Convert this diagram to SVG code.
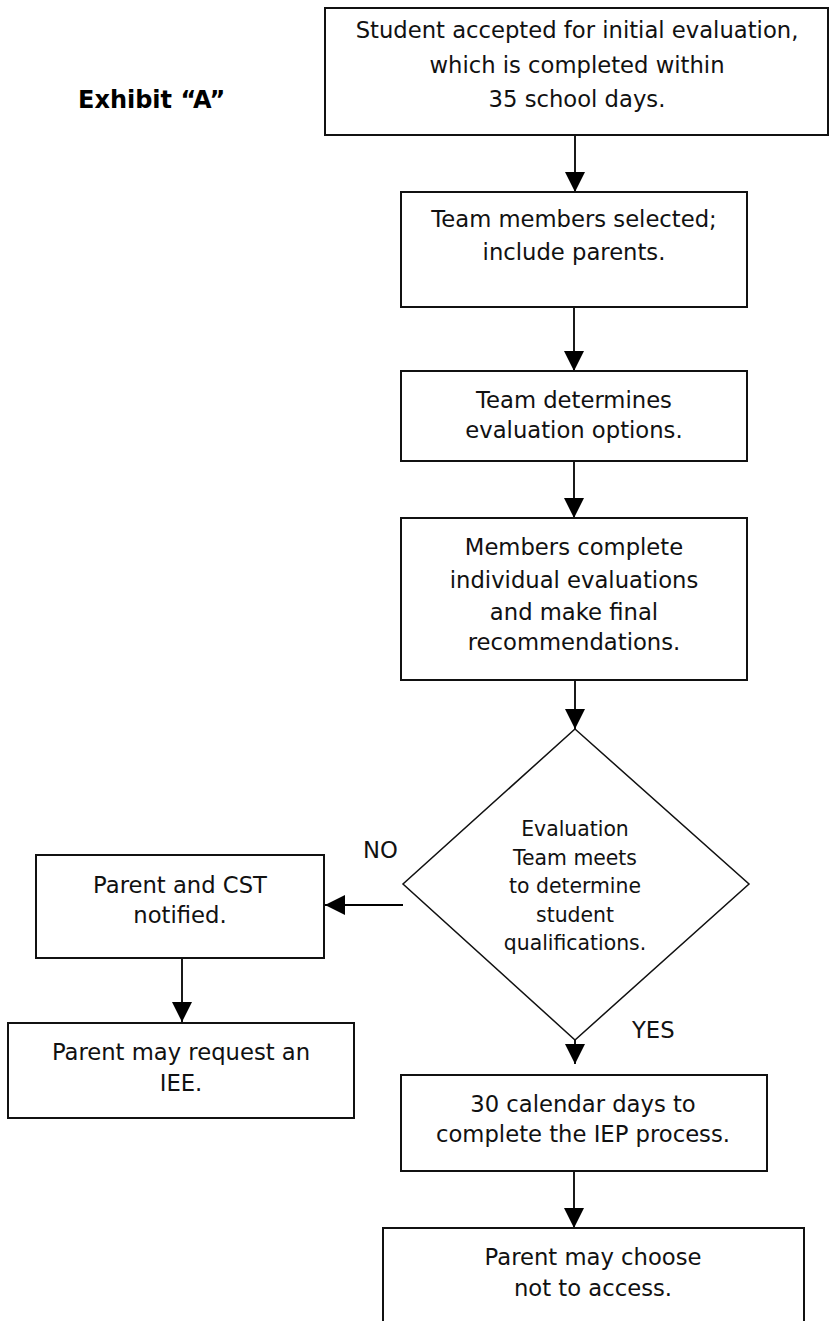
<svg xmlns="http://www.w3.org/2000/svg" width="832" height="1321" viewBox="0 0 832 1321">
<defs>
<style>
.box{fill:#fff;stroke:#111;stroke-width:2}
.dia{fill:#fff;stroke:#111;stroke-width:1.5}
.t{font-family:"DejaVu Sans",Verdana,sans-serif;font-size:22.7px;fill:#111;text-anchor:middle}
.d{font-family:"DejaVu Sans",Verdana,sans-serif;font-size:20.4px;fill:#111;text-anchor:middle}
.lbl{font-family:"DejaVu Sans",Verdana,sans-serif;font-size:22.7px;fill:#111}
.ex{font-family:"DejaVu Sans",Verdana,sans-serif;font-size:24px;font-weight:bold;fill:#000}
.c{stroke:#000;stroke-width:1.8;fill:none;marker-end:url(#ah)}
</style>
<marker id="ah" markerUnits="userSpaceOnUse" markerWidth="20" markerHeight="20" refX="20" refY="10" orient="auto">
<path d="M0,0 L20,10 L0,20 z" fill="#000"/>
</marker>
</defs>
<rect width="832" height="1321" fill="#fff"/>
<text class="ex" x="78" y="108">Exhibit “A”</text>

<g id="connectors">
<line class="c" x1="575" y1="135" x2="575" y2="192"/>
<line class="c" x1="574" y1="307" x2="574" y2="371"/>
<line class="c" x1="574" y1="461" x2="574" y2="518"/>
<line class="c" x1="575" y1="680" x2="575" y2="729"/>
<line class="c" x1="403" y1="905" x2="325" y2="905"/>
<line class="c" x1="182" y1="958" x2="182" y2="1022"/>
<line class="c" x1="575" y1="1040" x2="575" y2="1064"/>
<line class="c" x1="574" y1="1171" x2="574" y2="1228"/>
<text class="lbl" x="363" y="858">NO</text>
<text class="lbl" x="632" y="1038">YES</text>
</g>

<g id="n1">
<rect class="box" x="325" y="8" width="503" height="127"/>
<text class="t" x="577" y="38">Student accepted for initial evaluation,</text>
<text class="t" x="577" y="73">which is completed within</text>
<text class="t" x="577" y="107">35 school days.</text>
</g>
<g id="n2">
<rect class="box" x="401" y="192" width="346" height="115"/>
<text class="t" x="574" y="227">Team members selected;</text>
<text class="t" x="574" y="260">include parents.</text>
</g>
<g id="n3">
<rect class="box" x="401" y="371" width="346" height="90"/>
<text class="t" x="574" y="408">Team determines</text>
<text class="t" x="574" y="438">evaluation options.</text>
</g>
<g id="n4">
<rect class="box" x="401" y="518" width="346" height="162"/>
<text class="t" x="574" y="555">Members complete</text>
<text class="t" x="574" y="588">individual evaluations</text>
<text class="t" x="574" y="620">and make final</text>
<text class="t" x="574" y="650">recommendations.</text>
</g>
<g id="n5">
<polygon class="dia" points="575,729 749,884 575,1040 403,884"/>
<text class="d" x="575" y="836">Evaluation</text>
<text class="d" x="575" y="865">Team meets</text>
<text class="d" x="575" y="893">to determine</text>
<text class="d" x="575" y="922">student</text>
<text class="d" x="575" y="950">qualifications.</text>
</g>
<g id="n6">
<rect class="box" x="36" y="855" width="288" height="103"/>
<text class="t" x="180" y="893">Parent and CST</text>
<text class="t" x="180" y="923">notified.</text>
</g>
<g id="n7">
<rect class="box" x="8" y="1023" width="346" height="95"/>
<text class="t" x="181" y="1060">Parent may request an</text>
<text class="t" x="181" y="1091">IEE.</text>
</g>
<g id="n8">
<rect class="box" x="401" y="1075" width="366" height="96"/>
<text class="t" x="583" y="1112">30 calendar days to</text>
<text class="t" x="583" y="1142">complete the IEP process.</text>
</g>
<g id="n9">
<rect class="box" x="383" y="1228" width="421" height="110"/>
<text class="t" x="593" y="1265">Parent may choose</text>
<text class="t" x="593" y="1296">not to access.</text>
</g>
</svg>
